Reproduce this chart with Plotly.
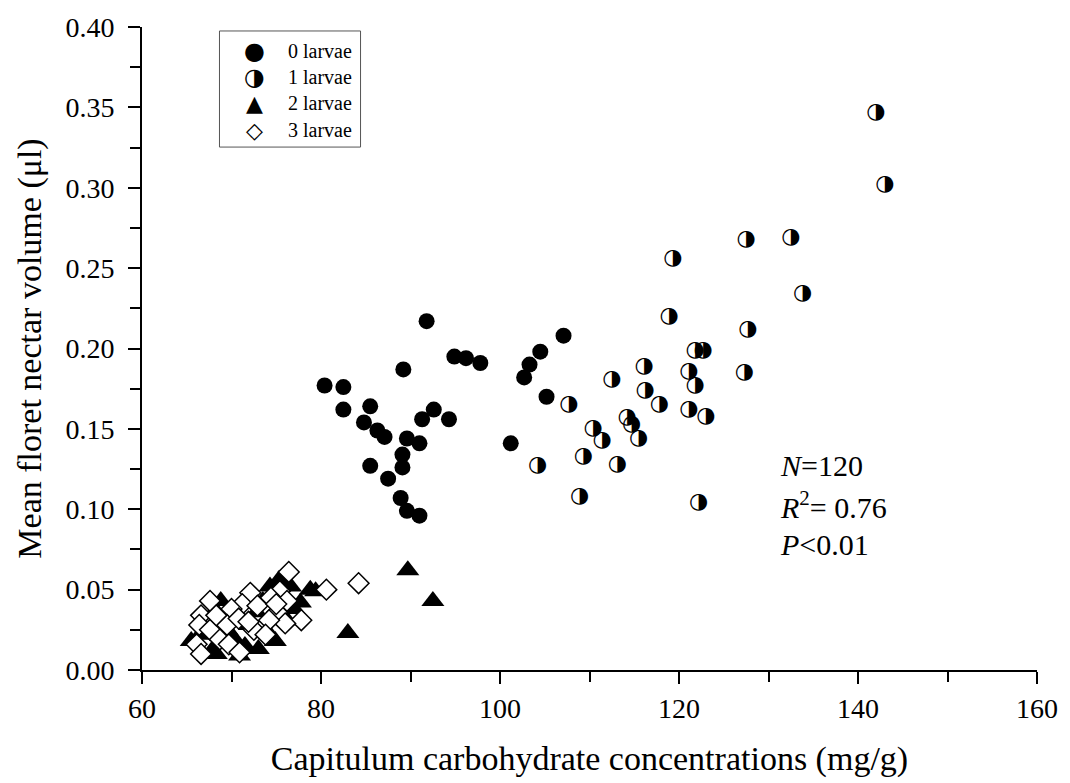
import plotly.graph_objects as go

# 0 larvae (filled circles)
x0 = [80.4, 82.5, 82.5, 85.5, 84.8, 86.3, 87.1, 89.6, 91.0, 92.6, 91.3, 94.3, 94.9, 96.2, 97.8,
      91.8, 89.2, 89.1, 89.1, 85.5, 87.5, 88.9, 89.6, 91.0, 107.1, 104.5, 103.3, 102.7, 105.2, 101.2]
y0 = [0.177, 0.176, 0.162, 0.164, 0.154, 0.149, 0.145, 0.144, 0.141, 0.162, 0.156, 0.156, 0.195, 0.194, 0.191,
      0.217, 0.187, 0.134, 0.126, 0.127, 0.119, 0.107, 0.099, 0.096, 0.208, 0.198, 0.190, 0.182, 0.170, 0.141]

# 1 larvae (half-filled circles)
x1 = [121.8, 122.7, 116.1, 127.3, 121.1, 112.5, 121.8, 116.2, 107.7, 117.8, 121.1, 123.0, 114.2, 114.7, 110.4,
      111.4, 115.5, 109.3, 113.1, 104.2, 108.9, 122.2, 142.0, 143.0, 127.5, 132.5, 119.3, 133.8, 118.9, 127.7]
y1 = [0.199, 0.199, 0.189, 0.185, 0.186, 0.181, 0.177, 0.174, 0.165, 0.165, 0.162, 0.158, 0.157, 0.153, 0.150,
      0.143, 0.144, 0.133, 0.128, 0.127, 0.108, 0.104, 0.347, 0.302, 0.268, 0.269, 0.256, 0.234, 0.220, 0.212]

# 2 larvae (filled triangles)
x2 = [65.5, 66.5, 67.8, 68.3, 68.8, 68.2, 69.0, 69.5, 70.2, 70.5, 71.5, 72.0, 72.8, 73.5, 74.0,
      74.3, 74.9, 75.3, 75.8, 76.6, 77.0, 77.7, 78.8, 79.4, 76.2, 73.0, 70.9, 83.0, 89.7, 92.5]
y2 = [0.018, 0.022, 0.012, 0.010, 0.043, 0.037, 0.031, 0.025, 0.020, 0.034, 0.015, 0.028, 0.036, 0.043, 0.024,
      0.052, 0.018, 0.056, 0.046, 0.052, 0.038, 0.042, 0.050, 0.049, 0.031, 0.013, 0.009, 0.023, 0.062, 0.043]

# 3 larvae (open diamonds)
x3 = [76.4, 80.6, 77.8, 67.6, 72.1, 71.2, 70.0, 75.4, 74.4, 76.2, 72.9, 75.1, 76.0, 66.6, 66.4,
      67.6, 69.5, 70.8, 72.5, 74.2, 68.7, 66.1, 69.7, 70.9, 66.6, 84.2, 73.8, 68.3, 71.9, 75.0]
y3 = [0.061, 0.050, 0.031, 0.043, 0.048, 0.041, 0.038, 0.049, 0.045, 0.043, 0.040, 0.036, 0.029, 0.034, 0.028,
      0.025, 0.028, 0.032, 0.025, 0.031, 0.019, 0.016, 0.016, 0.011, 0.010, 0.054, 0.022, 0.034, 0.030, 0.041]

legend_labels = ["0 larvae", "1 larvae", "2 larvae", "3 larvae"]
legend_glyphs = ["\u25CF", "\u25D1", "\u25B2", "\u25C7"]
stats_lines = ["<i>N</i>=120", "<i>R</i><sup>2</sup>= 0.76", "<i>P</i>&lt;0.01"]

SERIF = "Liberation Serif, Times New Roman, serif"

fig = go.Figure()
fig.add_trace(go.Scatter(x=x0, y=y0, mode="markers", showlegend=False,
                         marker=dict(symbol="circle", size=16, color="black", line=dict(width=0))))
fig.add_trace(go.Scatter(x=x1, y=y1, mode="text", showlegend=False, text=["\u25D1"] * len(x1),
                         textposition="middle center",
                         textfont=dict(family="DejaVu Sans", size=22, color="black")))
fig.add_trace(go.Scatter(x=x2, y=y2, mode="markers", showlegend=False,
                         marker=dict(symbol="triangle-up", size=20, color="black", line=dict(width=0))))
fig.add_trace(go.Scatter(x=x3, y=y3, mode="markers", showlegend=False,
                         marker=dict(symbol="diamond", size=16, color="white",
                                     line=dict(width=1.5, color="black"))))

fig.update_layout(font=dict(family=SERIF, size=28, color="black"))

fig.update_xaxes(range=[60, 160], dtick=20, tick0=60,
                 showline=True, linecolor="black", linewidth=2, showgrid=False, zeroline=False,
                 ticks="outside", ticklen=12, tickwidth=2, tickcolor="black",
                 tickfont=dict(family=SERIF, size=28, color="black"),
                 minor=dict(dtick=10, ticks="outside", ticklen=10, tickwidth=2, tickcolor="black"),
                 title=dict(text="Capitulum carbohydrate concentrations (mg/g)",
                            font=dict(family=SERIF, size=34, color="black"), standoff=24))
fig.update_yaxes(range=[0, 0.40], dtick=0.05, tick0=0, tickformat=".2f", ticklabelstandoff=8,
                 showline=True, linecolor="black", linewidth=2, showgrid=False, zeroline=False,
                 ticks="outside", ticklen=12, tickwidth=2, tickcolor="black",
                 tickfont=dict(family=SERIF, size=28, color="black"),
                 minor=dict(dtick=0.025, ticks="outside", ticklen=10, tickwidth=2, tickcolor="black"),
                 title=dict(text="Mean floret nectar volume (\u03bcl)",
                            font=dict(family=SERIF, size=34, color="black"), standoff=14))

W, H = 1070, 783
L, R, T, B = 142, 27, 23, 112
pw, ph = W - L - R, H - T - B

def px2paper_x(px):
    return (px - L) / pw

def px2paper_y(py):
    return (H - B - py) / ph

# legend box
fig.add_shape(type="rect", xref="paper", yref="paper",
              x0=px2paper_x(220), x1=px2paper_x(362), y0=px2paper_y(144), y1=px2paper_y(27),
              line=dict(color="#555555", width=1), fillcolor="rgba(0,0,0,0)")
rows_py = [47, 73.5, 100, 127]
glyph_sizes = [24, 24, 22, 22]
for lab, gl, py, gs in zip(legend_labels, legend_glyphs, rows_py, glyph_sizes):
    fig.add_annotation(xref="paper", yref="paper", x=px2paper_x(255), y=px2paper_y(py),
                       text=gl, showarrow=False, xanchor="center", yanchor="middle",
                       font=dict(family="DejaVu Sans", size=gs, color="black"))
    fig.add_annotation(xref="paper", yref="paper", x=px2paper_x(287), y=px2paper_y(py),
                       text=lab, showarrow=False, xanchor="left", yanchor="middle",
                       font=dict(family=SERIF, size=20, color="black"))

for line, py in zip(stats_lines, [465, 505, 545]):
    fig.add_annotation(xref="paper", yref="paper", x=px2paper_x(782), y=px2paper_y(py),
                       text=line, showarrow=False, xanchor="left", yanchor="middle",
                       font=dict(family=SERIF, size=30, color="black"))

fig.update_layout(width=W, height=H, margin=dict(l=L, r=R, t=T, b=B, pad=0),
                  paper_bgcolor="white", plot_bgcolor="white", showlegend=False)

fig.write_html("out.html")
